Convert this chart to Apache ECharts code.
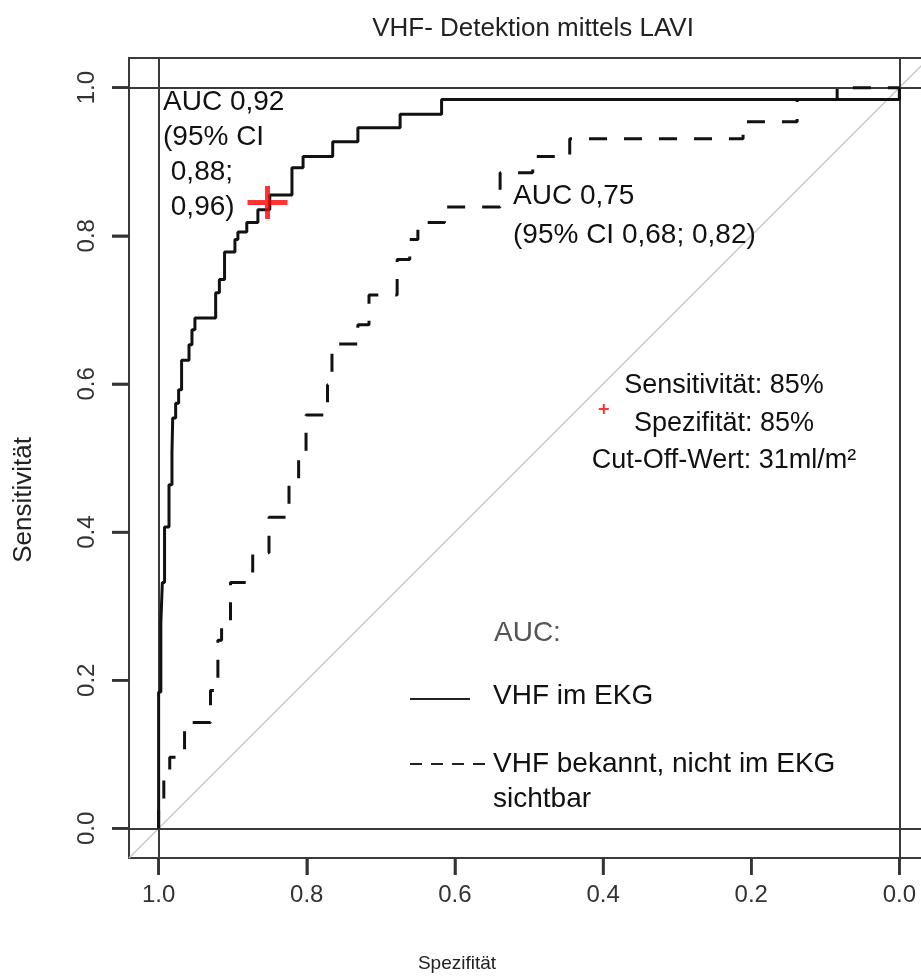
<!DOCTYPE html>
<html>
<head>
<meta charset="utf-8">
<script src="https://cdn.jsdelivr.net/npm/echarts@6/dist/echarts.min.js"></script>
<style>
  html, body { margin: 0; padding: 0; background: #fff; }
  #chart { width: 921px; height: 977px; }
</style>
</head>
<body>
<div id="chart"></div>
<script>
const FONT = '"Liberation Sans", Arial, Helvetica, sans-serif';

const axisTicks = [0, 0.2, 0.4, 0.6, 0.8, 1.0];
const refLevels = [0, 1];
const AXIS_MIN = -0.04;
const AXIS_MAX = 1.04;

// ROC "VHF im EKG" (solid) – corner points of the step curve
const ekgSpec = [1.000, 1.000, 0.997, 0.997, 0.995, 0.995, 0.992, 0.992, 0.986, 0.986,
  0.982, 0.982, 0.981, 0.981, 0.977, 0.977, 0.973, 0.973, 0.969, 0.969,
  0.959, 0.959, 0.955, 0.955, 0.951, 0.951, 0.923, 0.923, 0.918, 0.918,
  0.911, 0.911, 0.897, 0.897, 0.893, 0.893, 0.881, 0.881, 0.866, 0.866,
  0.850, 0.850, 0.820, 0.820, 0.805, 0.805, 0.765, 0.765, 0.731, 0.731,
  0.674, 0.674, 0.618, 0.618, 0.000, 0.000];
const ekgSens = [0.000, 0.184, 0.184, 0.278, 0.278, 0.332, 0.332, 0.407, 0.407, 0.464,
  0.464, 0.507, 0.507, 0.554, 0.554, 0.574, 0.574, 0.592, 0.592, 0.632,
  0.632, 0.653, 0.653, 0.673, 0.673, 0.689, 0.689, 0.723, 0.723, 0.741,
  0.741, 0.778, 0.778, 0.795, 0.795, 0.805, 0.805, 0.818, 0.818, 0.835,
  0.835, 0.855, 0.855, 0.892, 0.892, 0.907, 0.907, 0.927, 0.927, 0.946,
  0.946, 0.964, 0.964, 0.984, 0.984, 1.000];

// ROC "VHF bekannt, nicht im EKG sichtbar" (dashed)
const knownSpec = [1.000, 1.000, 0.993, 0.993, 0.985, 0.985, 0.965, 0.965, 0.930, 0.930,
  0.920, 0.920, 0.915, 0.915, 0.903, 0.903, 0.873, 0.873, 0.851, 0.851,
  0.824, 0.824, 0.811, 0.811, 0.801, 0.801, 0.772, 0.772, 0.766, 0.766,
  0.731, 0.731, 0.716, 0.716, 0.678, 0.678, 0.661, 0.661, 0.650, 0.650,
  0.614, 0.614, 0.539, 0.539, 0.495, 0.495, 0.445, 0.445, 0.211, 0.211,
  0.138, 0.138, 0.084, 0.084, 0.000];
const knownSens = [0.000, 0.038, 0.038, 0.065, 0.065, 0.096, 0.096, 0.143, 0.143, 0.186,
  0.186, 0.254, 0.254, 0.278, 0.278, 0.332, 0.332, 0.372, 0.372, 0.420,
  0.420, 0.464, 0.464, 0.500, 0.500, 0.558, 0.558, 0.599, 0.599, 0.654,
  0.654, 0.680, 0.680, 0.720, 0.720, 0.768, 0.768, 0.795, 0.795, 0.818,
  0.818, 0.839, 0.839, 0.885, 0.885, 0.907, 0.907, 0.931, 0.931, 0.954,
  0.954, 0.984, 0.984, 1.000, 1.000];

// best cut-off point on the solid curve, and the small key marker
const cutoffSpec = [0.853];
const cutoffSens = [0.845];
const keySpec = [0.399];
const keySens = [0.566];

// chance line across the whole plot box
const diagSpec = [AXIS_MAX, AXIS_MIN];
const diagSens = [AXIS_MIN, AXIS_MAX];

const pairs = (xs, ys) => xs.map((x, i) => [x, ys[i]]);

const PLUS = 'path://M0,14H40V19H0Z M17.5,0H22.5V33H17.5Z';
const PLUS_SMALL = 'path://M0,4H10V6H0Z M4,0H6V10H4Z';
const TICK_LEN = 17;

const chart = echarts.init(document.getElementById('chart'));

const axisCommon = {
  type: 'value',
  min: AXIS_MIN,
  max: AXIS_MAX,
  axisLine: { show: true, onZero: false, lineStyle: { color: '#3a3a3a', width: 2 } },
  splitLine: { show: false },
  axisTick: {
    show: true,
    inside: false,
    customValues: axisTicks,
    length: TICK_LEN,
    lineStyle: { color: '#333', width: 2.5 }
  },
  axisLabel: {
    customValues: axisTicks,
    formatter: v => v.toFixed(1),
    fontFamily: FONT,
    fontSize: 24,
    color: '#333'
  },
  nameLocation: 'middle',
  nameTextStyle: { fontFamily: FONT, fontSize: 19, color: '#222' }
};

const annotations = [
  {
    type: 'text', left: 163, top: 85, z: 10,
    style: { text: 'AUC 0,92\n(95% CI\n 0,88;\n 0,96)', font: '28px ' + FONT, fill: '#111', lineHeight: 35 }
  },
  {
    type: 'text', left: 513, top: 177, z: 10,
    style: { text: 'AUC 0,75\n(95% CI 0,68; 0,82)', font: '28px ' + FONT, fill: '#111', lineHeight: 39 }
  },
  {
    type: 'text', x: 724, y: 367, z: 10,
    style: { text: 'Sensitivität: 85%\nSpezifität: 85%\nCut-Off-Wert: 31ml/m²', font: '27px ' + FONT, fill: '#111', lineHeight: 37.5, align: 'center' }
  },
  {
    type: 'text', left: 494, top: 619, z: 10,
    style: { text: 'AUC:', font: '28px ' + FONT, fill: '#555' }
  },
  {
    type: 'line', z: 10,
    shape: { x1: 410, y1: 699, x2: 470, y2: 699 },
    style: { stroke: '#222', lineWidth: 2 }
  },
  {
    type: 'text', left: 493, top: 682, z: 10,
    style: { text: 'VHF im EKG', font: '28px ' + FONT, fill: '#111' }
  },
  {
    type: 'line', z: 10,
    shape: { x1: 410, y1: 764, x2: 486, y2: 764 },
    style: { stroke: '#222', lineWidth: 2, lineDash: [12, 9] }
  },
  {
    type: 'text', left: 493, top: 747, z: 10,
    style: { text: 'VHF bekannt, nicht im EKG\nsichtbar', font: '28px ' + FONT, fill: '#111', lineHeight: 35 }
  }
];

chart.setOption({
  animation: false,
  backgroundColor: '#fff',
  title: {
    text: 'VHF- Detektion mittels LAVI',
    left: 528,
    top: 11,
    textAlign: 'center',
    textStyle: { fontFamily: FONT, fontSize: 26, fontWeight: 'normal', color: '#222' }
  },
  grid: {
    left: 129, top: 58, width: 800, height: 800,
    outerBoundsMode: 'none',
    containLabel: false,
    show: true, borderColor: '#3a3a3a', borderWidth: 2
  },
  xAxis: Object.assign({}, axisCommon, {
    inverse: true,
    position: 'bottom',
    name: 'Spezifität',
    nameGap: 96,
    nameTextStyle: Object.assign({}, axisCommon.nameTextStyle, { padding: [0, 144, 0, 0] }),
    axisLabel: Object.assign({}, axisCommon.axisLabel, { margin: 25 })
  }),
  yAxis: Object.assign({}, axisCommon, {
    position: 'left',
    name: 'Sensitivität',
    nameGap: 92,
    nameTextStyle: Object.assign({}, axisCommon.nameTextStyle, { fontSize: 26, padding: [0, 84, 0, 0] }),
    axisLabel: Object.assign({}, axisCommon.axisLabel, { rotate: 90, margin: 30 })
  }),
  series: [
    {
      name: 'diagonal',
      type: 'line',
      data: pairs(diagSpec, diagSens),
      showSymbol: false,
      silent: true,
      lineStyle: { color: '#c8c8c8', width: 1.5 },
      z: 1
    },
    {
      name: 'ref',
      type: 'line',
      data: [],
      silent: true,
      markLine: {
        symbol: 'none',
        silent: true,
        label: { show: false },
        lineStyle: { color: '#3a3a3a', width: 2, type: 'solid' },
        data: refLevels.map(v => ({ yAxis: v }))
          .concat(refLevels.map(v => ({ xAxis: v })))
      },
      z: 2
    },
    {
      name: 'VHF im EKG',
      type: 'line',
      data: pairs(ekgSpec, ekgSens),
      showSymbol: false,
      lineStyle: { color: '#111', width: 3 },
      z: 5
    },
    {
      name: 'VHF bekannt, nicht im EKG sichtbar',
      type: 'line',
      data: pairs(knownSpec, knownSens),
      showSymbol: false,
      lineStyle: { color: '#111', width: 3, type: [18, 17] },
      z: 5
    },
    {
      name: 'Cut-Off',
      type: 'scatter',
      data: pairs(cutoffSpec, cutoffSens),
      symbol: PLUS,
      symbolSize: [40, 33],
      itemStyle: { color: '#ff0000' },
      z: 6
    },
    {
      name: 'Cut-Off key',
      type: 'scatter',
      data: pairs(keySpec, keySens),
      symbol: PLUS_SMALL,
      symbolSize: [10, 10],
      itemStyle: { color: '#ff0000' },
      z: 6
    }
  ]
});

// outward tick marks at the box edge, positioned through the axis scales
const boxBottom = chart.convertToPixel({ yAxisIndex: 0 }, AXIS_MIN);
const boxLeft = chart.convertToPixel({ xAxisIndex: 0 }, AXIS_MAX);
const ticks = [];
axisTicks.forEach(v => {
  const px = chart.convertToPixel({ xAxisIndex: 0 }, v);
  const py = chart.convertToPixel({ yAxisIndex: 0 }, v);
  ticks.push({
    type: 'line', z: 100,
    shape: { x1: px, y1: boxBottom, x2: px, y2: boxBottom + TICK_LEN },
    style: { stroke: '#333', lineWidth: 2.5 }
  });
  ticks.push({
    type: 'line', z: 100,
    shape: { x1: boxLeft, y1: py, x2: boxLeft - TICK_LEN, y2: py },
    style: { stroke: '#333', lineWidth: 2.5 }
  });
});

chart.setOption({ graphic: annotations.concat(ticks) });
</script>
</body>
</html>
